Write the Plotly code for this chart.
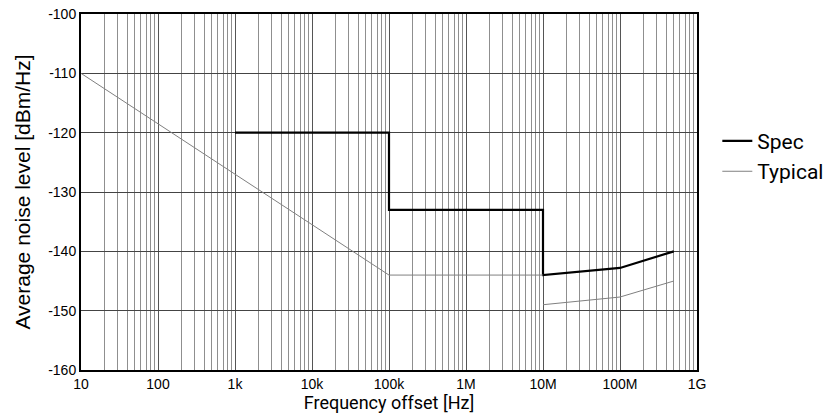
import plotly.graph_objects as go

# Data
spec_freq = [1e3, 1e5, 1e5, 1e7, 1e7, 1e8, 5e8]
spec_level = [-120, -120, -133, -133, -144, -142.8, -140]

typ_freq = [10, 1e5, 1e7, None, 1e7, 1e8, 5e8]
typ_level = [-110, -144, -144, None, -149, -147.7, -145]

x_tickvals = [10, 100, 1e3, 1e4, 1e5, 1e6, 1e7, 1e8, 1e9]
x_ticktext = ["10", "100", "1k", "10k", "100k", "1M", "10M", "100M", "1G"]
y_tickvals = [-100, -110, -120, -130, -140, -150, -160]
y_ticktext = ["-100", "-110", "-120", "-130", "-140", "-150", "-160"]

narrow = "Roboto, sans-serif"
regular = "Liberation Sans, Arial, sans-serif"

fig = go.Figure()
fig.add_trace(go.Scatter(x=spec_freq, y=spec_level, mode="lines", name="Spec",
                         line=dict(color="black", width=2.2)))
fig.add_trace(go.Scatter(x=typ_freq, y=typ_level, mode="lines", name="Typical",
                         line=dict(color="#808080", width=1), connectgaps=False))

fig.update_layout(
    width=836, height=416,
    margin=dict(l=81, r=139, t=14, b=46, autoexpand=False),
    paper_bgcolor="white", plot_bgcolor="white",
    font=dict(family=regular, color="black"),
    legend=dict(x=1.033, y=0.7, xanchor="left", yanchor="top",
                font=dict(family=narrow, size=21, color="black"),
                itemwidth=30, tracegroupgap=0, bgcolor="rgba(0,0,0,0)"),
    showlegend=True,
)

fig.update_xaxes(
    type="log", range=[1, 9], automargin=False,
    tickvals=x_tickvals, ticktext=x_ticktext,
    tickfont=dict(size=14, family=regular), ticks="", ticklen=0,
    showgrid=True, gridcolor="#555555", gridwidth=1,
    minor=dict(showgrid=True, gridcolor="#8f8f8f", gridwidth=1, dtick="D1", ticks=""),
    showline=True, mirror=True, linecolor="black", linewidth=2,
    zeroline=False,
    title=dict(text="Frequency offset [Hz]", font=dict(family=narrow, size=18), standoff=2),
)
fig.update_yaxes(
    range=[-160, -100], tickvals=y_tickvals, ticktext=y_ticktext, automargin=False,
    tickfont=dict(size=14, family=regular), ticks="",
    showgrid=True, gridcolor="#444444", gridwidth=1,
    showline=True, mirror=True, linecolor="black", linewidth=2,
    zeroline=False,
    title=dict(text="Average noise level [dBm/Hz]", font=dict(family=regular, size=21), standoff=12),
)

fig.write_html("out.html", config={"displayModeBar": False},
               post_script="document.body.style.margin='0';")
